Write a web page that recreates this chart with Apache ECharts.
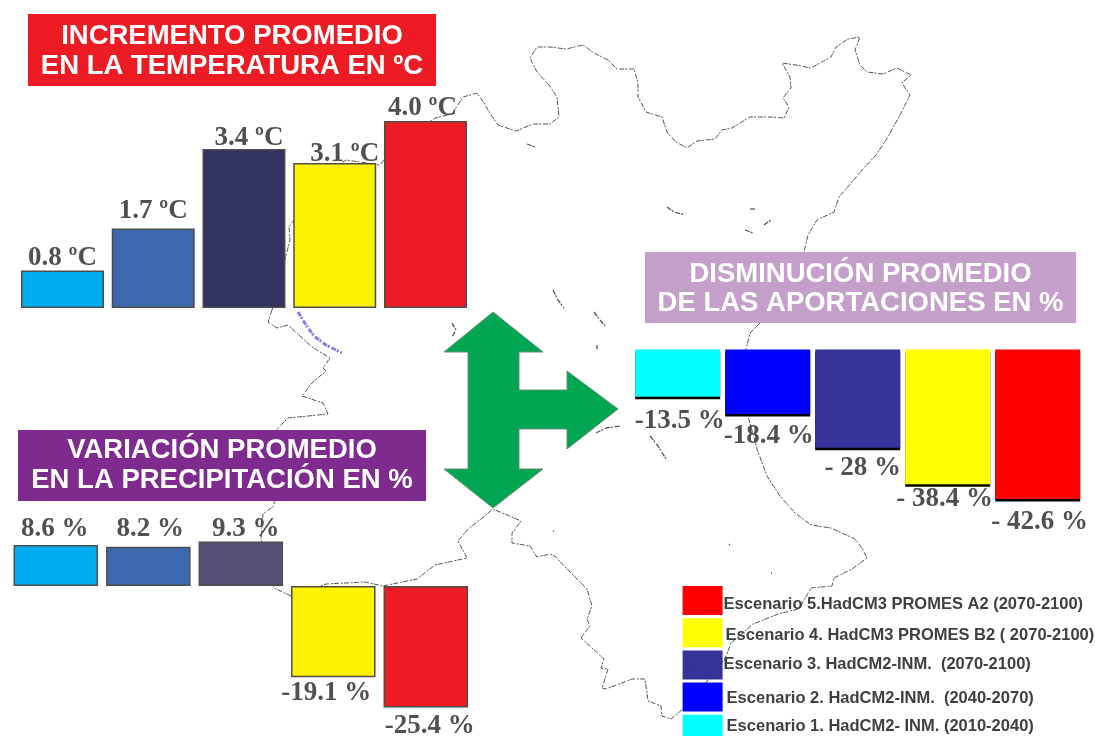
<!DOCTYPE html>
<html lang="es">
<head>
<meta charset="utf-8">
<style>html,body{margin:0;padding:0;background:#fff}#chart{width:1100px;height:736px}</style>
<script src="https://cdn.jsdelivr.net/npm/echarts@6/dist/echarts.min.js"></script>
</head>
<body>
<div id="chart"></div>
<script>
// Temperature increase per scenario (ºC)
const tempCategories = ['E1', 'E2', 'E3', 'E4', 'E5'];
const tempValues = [0.8, 1.7, 3.4, 3.1, 4.0];
const tempLabels = ['0.8 ºC', '1.7 ºC', '3.4 ºC', '3.1 ºC', '4.0 ºC'];
const tempColors = ['#00aeef', '#3c68b0', '#333362', '#fff200', '#ed1c24'];
const tempLabelShift = [[0, 3], [0, -2], [5, 4], [10, 6], [-3, 3]];

// Precipitation change per scenario (%)
const rainValues = [8.6, 8.2, 9.3, -19.1, -25.4];
const rainLabels = ['8.6 %', '8.2 %', '9.3 %', '-19.1 %', '-25.4 %'];
const rainColors = ['#00aeef', '#3c68b0', '#544f74', '#fff200', '#ed1c24'];
const rainLabelShift = [[-1, 0], [2, -2], [5, 3], [-7, 0], [4, 3]];

// Decrease of inflows per scenario (%)
const flowValues = [-13.5, -18.4, -28, -38.4, -42.6];
const flowLabels = ['-13.5 %', '-18.4 %', '- 28 %', '- 38.4 %', '- 42.6 %'];
const flowColors = ['#00ffff', '#0000ff', '#333399', '#ffff00', '#ff0000'];
const flowLabelShift = [[2, 9], [1, 7], [5, 5], [-3, -1], [2, 8]];
const scenarioNames = [
  'Escenario 1. HadCM2- INM. (2010-2040)',
  'Escenario 2. HadCM2-INM.  (2040-2070)',
  'Escenario 3. HadCM2-INM.  (2070-2100)',
  'Escenario 4. HadCM3 PROMES B2 ( 2070-2100)',
  'Escenario 5.HadCM3 PROMES A2 (2070-2100)'
];
const legendTextShift = [[3, -3], [3, 1], [0, 0], [2, 3], [0, 4]];

// Base map drawn behind the charts, in page units
const coastline = [
  [272,310],[290,240],[289,227],[330,170],[346,160],[380,165],[395,145],[435,118],[452,114],[463,97],[477,93],[484,103],
  [491,115],[498,125],[516,131],[533,124],[550,124],[559,117],[557,97],[549,85],[537,72],[530,58],[537,47],[550,47],
  [566,49],[583,45],[594,53],[608,60],[617,69],[634,69],[638,83],[638,97],[646,112],[662,117],[667,132],[676,142],
  [687,148],[697,141],[715,139],[722,130],[732,128],[750,117],[771,117],[784,118],[789,107],[783,98],[791,88],[790,77],
  [782,63],[796,65],[811,68],[831,57],[836,47],[848,39],[860,37],[855,50],[860,65],[867,72],[883,74],[897,68],
  [911,75],[902,83],[910,95],[901,113],[888,137],[876,155],[862,170],[852,182],[839,197],[834,212],[817,220],[808,235],
  [804,252],[760,323],[750,333],[746,349],[748,416],[757,449],[767,476],[780,496],[795,513],[811,525],[831,528],[855,539],
  [862,548],[867,558],[852,569],[834,578],[832,586],[811,588],[799,609],[778,614],[753,624],[731,643],[725,659],[700,690],
  [683,709],[671,719],[662,716],[661,706],[648,701],[645,679],[632,679],[606,689],[602,688],[608,669],[601,668],[604,659],
  [581,638],[590,626],[587,619],[592,606],[587,589],[564,566],[556,557],[550,554],[537,557],[530,546],[512,543],[512,533],
  [521,521],[493,509],[481,519],[468,529],[458,541],[467,558],[435,565],[417,579],[383,586],[365,582],[326,584],[291,596],
  [274,588],[261,539],[263,514],[274,506],[277,429],[288,418],[328,414],[323,403],[302,396],[312,383],[326,371],[323,368],
  [330,358],[312,347],[288,325],[277,328],[268,322],[272,310]
];
const islands = [
  [[298,312],[306,325],[314,336],[326,345],[342,353]],
  [[452,323],[456,330],[452,337]],
  [[527,144],[535,147]],
  [[667,207],[674,212],[685,215]],
  [[750,209],[755,209]],
  [[745,230],[753,233]],
  [[764,225],[771,220]],
  [[553,290],[558,300],[564,308]],
  [[594,312],[600,320],[606,327]],
  [[597,345],[597,349]],
  [[596,433],[606,428],[620,426]],
  [[650,436],[658,446],[666,459]],
  [[729,544],[730,545]],
  [[771,573],[772,573]],
  [[553,531],[554,531]]
];

// Double-headed green arrow with its branch to the right
const arrowOutline = [
  [493,312],[543,352],[519,352],[519,390],[567,390],[567,371],[618,409],[567,449],[567,429],[519,429],
  [519,469],[543,469],[493,508],[444,469],[468,469],[468,352],[444,352]
];

// Coloured headings: [left, top, width, height, colour, line 1, line 2, line 1 drop, line 2 drop]
const banners = [
  [28, 14, 408, 72, '#ed1c24', 'INCREMENTO PROMEDIO', 'EN LA TEMPERATURA EN ºC', 22, 52],
  [18, 430, 408, 71, '#7f2a8f', 'VARIACIÓN PROMEDIO', 'EN LA PRECIPITACIÓN EN %', 20.5, 50.5],
  [645, 252, 431, 71, '#c39fc9', 'DISMINUCIÓN PROMEDIO', 'DE LAS APORTACIONES EN %', 22, 51]
];

const serif = '"Liberation Serif", serif';
const sans = '"Liberation Sans", Arial, sans-serif';

const barLabel = (text, shift, position) => ({
  show: true,
  position,
  distance: 2,
  offset: shift,
  formatter: text,
  color: '#505050',
  fontFamily: serif,
  fontWeight: 'bold',
  fontSize: 27
});

const coloredBars = (values, colors, labels, shifts, xIndex, width) => ({
  type: 'bar',
  name: 'valores' + xIndex,
  xAxisIndex: xIndex,
  yAxisIndex: xIndex,
  barWidth: width,
  z: 3,
  data: values.map((v, i) => ({
    value: v,
    itemStyle: { color: colors[i], borderColor: '#4d4d4d', borderWidth: 1.5 },
    label: barLabel(labels[i], shifts[i], v < 0 ? 'bottom' : 'top')
  }))
});

// One stacked series per scenario, so the legend can list them by name
const flowSeries = scenarioNames.map((name, i) => ({
  type: 'bar',
  name,
  stack: 'aportaciones',
  xAxisIndex: 2,
  yAxisIndex: 2,
  barWidth: 85,
  z: 3,
  itemStyle: { color: flowColors[i], shadowColor: '#000', shadowOffsetY: 2.5, shadowBlur: 0 },
  data: flowValues.map((v, j) => (j === i ? v : null)),
  label: barLabel(flowLabels[i], flowLabelShift[i], 'bottom')
}));

const mapLine = (points, color, width) => ({
  type: 'line',
  xAxisIndex: 3,
  yAxisIndex: 3,
  silent: true,
  showSymbol: false,
  z: 1,
  lineStyle: { color, width, type: [5, 1, 2, 2] },
  data: points
});

// Legend rows sit slightly off their swatches, so each text gets its own padding
const legendRich = {};
scenarioNames.forEach((_, i) => {
  const [dx, dy] = legendTextShift[i];
  legendRich['s' + i] = {
    padding: [Math.max(dy, 0) * 2, 0, Math.max(-dy, 0) * 2, dx],
    lineHeight: 14,
    color: '#3f3f3f',
    fontFamily: sans,
    fontWeight: 'bold',
    fontSize: 16.5
  };
});

const option = {
  animation: false,
  backgroundColor: '#fff',
  legend: {
    left: 682.6,
    top: 586,
    height: 180,
    orient: 'vertical',
    itemWidth: 32,
    itemHeight: 21,
    itemGap: 3.2,
    selectedMode: false,
    padding: 0,
    formatter: name => `{s${scenarioNames.indexOf(name)}|${name}}`,
    textStyle: { rich: legendRich },
    data: scenarioNames.map((name, i) => ({
      name,
      icon: 'rect',
      itemStyle: { color: flowColors[i], borderColor: flowColors[i], borderWidth: 8, shadowColor: 'transparent', shadowOffsetY: 0 }
    })).reverse()
  },
  grid: [
    { left: 17.1, width: 453.75, top: 102.3, height: 205.7 },
    { left: 9.55, width: 462.5, top: 538.2, height: 172.1 },
    { left: 632.7, width: 450, top: 349.5, height: 157.8 },
    { left: 0, top: 0, width: 1100, height: 736 }
  ],
  xAxis: [
    { type: 'category', gridIndex: 0, show: false, data: tempCategories },
    { type: 'category', gridIndex: 1, show: false, data: tempCategories },
    { type: 'category', gridIndex: 2, show: false, data: tempCategories },
    { type: 'value', gridIndex: 3, show: false, min: 0, max: 1100 }
  ],
  yAxis: [
    { type: 'value', gridIndex: 0, show: false, min: 0, max: 4.4 },
    { type: 'value', gridIndex: 1, show: false, min: -26, max: 10 },
    { type: 'value', gridIndex: 2, show: false, min: -45, max: 0 },
    { type: 'value', gridIndex: 3, show: false, min: 0, max: 736, inverse: true }
  ],
  series: [
    mapLine(coastline, '#555', 1),
    ...islands.map((points, i) => mapLine(points, i === 0 ? '#8a80e8' : '#555', i === 0 ? 3 : 1.3)),
    coloredBars(tempValues, tempColors, tempLabels, tempLabelShift, 0, 83),
    coloredBars(rainValues, rainColors, rainLabels, rainLabelShift, 1, 84.5),
    ...flowSeries
  ],
  graphic: [
    {
      type: 'polygon',
      z: 6,
      shape: { points: arrowOutline },
      style: { fill: '#00a651', stroke: '#6b8f7a', lineWidth: 1 }
    },
    ...banners.flatMap(([x, y, w, h, color, first, second, drop1, drop2]) => [
      { type: 'rect', z: 5, shape: { x, y, width: w, height: h }, style: { fill: color } },
      {
        type: 'text', z: 6, x: x + w / 2, y: y + drop1,
        style: { text: first, fill: '#fff', font: `bold 27.5px ${sans}`, textAlign: 'center', textVerticalAlign: 'middle' }
      },
      {
        type: 'text', z: 6, x: x + w / 2, y: y + drop2,
        style: { text: second, fill: '#fff', font: `bold 27.5px ${sans}`, textAlign: 'center', textVerticalAlign: 'middle' }
      }
    ])
  ]
};

echarts.init(document.getElementById('chart'), null, { renderer: 'canvas' }).setOption(option);
</script>
</body>
</html>
